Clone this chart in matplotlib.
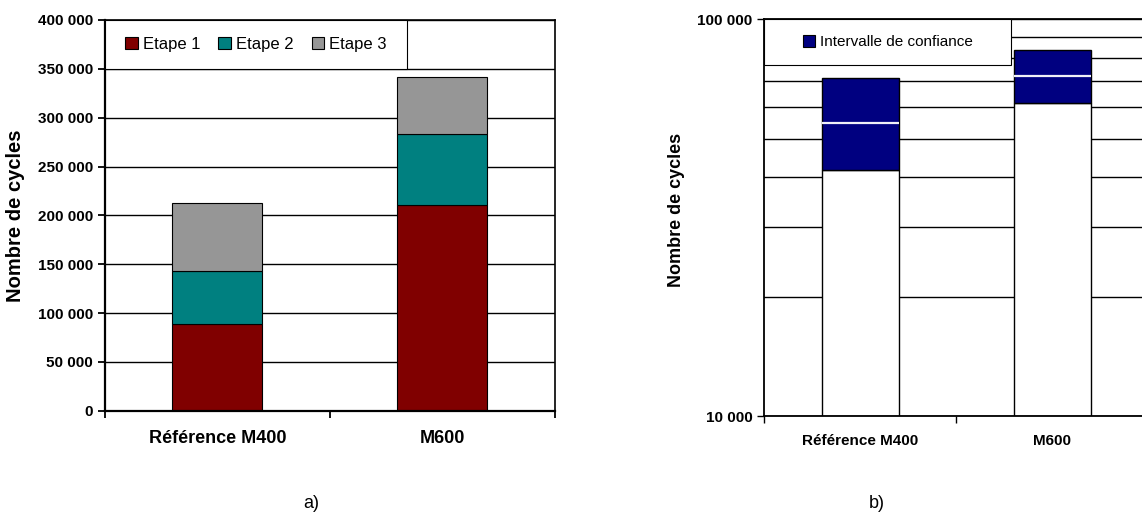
"""
Nombre de cycles par etape (a) et intervalle de confiance (b).
"""

import matplotlib
matplotlib.use('Agg')
import matplotlib.pyplot as plt
import numpy as np
from matplotlib.patches import Rectangle, Patch
from matplotlib.ticker import FuncFormatter, LogLocator, NullFormatter, FixedLocator

plt.rcParams['font.family'] = ['Liberation Sans', 'DejaVu Sans']

# data
categories = ['Référence M400', 'M600']
etape1 = [89000, 211000]
etape2 = [54000, 72000]
etape3 = [70000, 59000]
etape_labels = ['Etape 1', 'Etape 2', 'Etape 3']
etape_colors = ['#800000', '#008080', '#969696']

ic_low = [41700, 61400]
ic_mean = [54800, 71800]
ic_high = [71100, 83900]
ic_label = 'Intervalle de confiance'
log_floor = 10000


def space_thousands(v, pos=None):
    return f"{int(round(v)):,}".replace(',', ' ')


fig = plt.figure(figsize=(11.42, 5.18), dpi=100)

# ---- a) stacked bars
ax1 = fig.add_axes([0.0919, 0.2071, 0.394, 0.7543])
x = np.arange(len(categories))
bottoms = np.zeros(len(categories))
for vals, lab, col in zip([etape1, etape2, etape3], etape_labels, etape_colors):
    ax1.bar(x, vals, 0.4, bottom=bottoms, color=col, edgecolor='black',
            linewidth=0.8, label=lab, zorder=2)
    bottoms += np.array(vals)

ax1.set_xlim(-0.5, 1.5)
ax1.set_ylim(0, 400000)
ax1.set_yticks(np.arange(0, 400001, 50000))
ax1.yaxis.set_major_formatter(FuncFormatter(space_thousands))
ax1.yaxis.grid(True, color='black', linewidth=1)
ax1.set_axisbelow(True)
ax1.xaxis.set_major_locator(FixedLocator([-0.5, 0.5, 1.5]))
ax1.xaxis.set_major_formatter(NullFormatter())
ax1.set_xticks(x, minor=True)
ax1.set_xticklabels(categories, minor=True, fontsize=13, fontweight='bold')
ax1.tick_params(axis='x', which='minor', length=0, pad=14)
ax1.tick_params(axis='x', which='major', length=5, width=1.3)
ax1.tick_params(axis='y', length=5, width=1.3, labelsize=11)
for t in ax1.get_yticklabels():
    t.set_fontweight('bold')
for s in ax1.spines.values():
    s.set_color('black')
    s.set_linewidth(1.2)
ax1.spines['left'].set_linewidth(1.6)
ax1.spines['bottom'].set_linewidth(1.6)
ax1.set_ylabel('Nombre de cycles', fontsize=14.5, fontweight='bold')
ax1.yaxis.set_label_coords(-0.178, 0.5)

# legend box on top left
ax1.add_patch(Rectangle((0, 1 - 0.125), 0.671, 0.125, transform=ax1.transAxes,
                        facecolor='white', edgecolor='black', linewidth=0.8,
                        clip_on=False, zorder=3))
handles1 = [Patch(facecolor=c, edgecolor='black', linewidth=0.8) for c in etape_colors]
leg1 = ax1.legend(handles1, etape_labels, loc='center', bbox_to_anchor=(0.3356, 1 - 0.0625),
                  ncol=3, frameon=False, fontsize=12, handlelength=0.75, handleheight=0.75,
                  handletextpad=0.3, columnspacing=1.1, borderaxespad=0)
leg1.set_zorder(4)

# ---- b) log scale, confidence interval
ax2 = fig.add_axes([0.6694, 0.1969, 0.3363, 0.7658])
ax2.bar(x, np.array(ic_low) - log_floor, 0.4, bottom=log_floor, color='white',
        edgecolor='black', linewidth=1, zorder=2)
ax2.bar(x, np.array(ic_high) - np.array(ic_low), 0.4, bottom=ic_low, color='#000080',
        edgecolor='black', linewidth=1, zorder=2)
ax2.hlines(ic_mean, x - 0.2, x + 0.2, color='#f0f0f8', linewidth=1.6, zorder=3)

ax2.set_yscale('log')
ax2.set_xlim(-0.5, 1.5)
ax2.set_ylim(10000, 100000)
ax2.yaxis.set_major_locator(FixedLocator([10000, 100000]))
ax2.yaxis.set_major_formatter(FuncFormatter(space_thousands))
ax2.yaxis.set_minor_locator(LogLocator(base=10, subs=np.arange(2, 10)))
ax2.yaxis.set_minor_formatter(NullFormatter())
ax2.yaxis.grid(True, which='both', color='black', linewidth=1)
ax2.set_axisbelow(True)
ax2.tick_params(axis='y', which='minor', length=0)
ax2.tick_params(axis='y', which='major', length=5, width=1, labelsize=11)
for t in ax2.get_yticklabels():
    t.set_fontweight('bold')
ax2.xaxis.set_major_locator(FixedLocator([-0.5, 0.5, 1.5]))
ax2.xaxis.set_major_formatter(NullFormatter())
ax2.set_xticks(x, minor=True)
ax2.set_xticklabels(categories, minor=True, fontsize=11, fontweight='bold')
ax2.tick_params(axis='x', which='minor', length=0, pad=13)
ax2.tick_params(axis='x', which='major', length=5, width=1)
ax2.spines['right'].set_visible(False)
for s in ['left', 'bottom', 'top']:
    ax2.spines[s].set_color('black')
    ax2.spines[s].set_linewidth(1.3)
ax2.set_ylabel('Nombre de cycles', fontsize=13, fontweight='bold')
ax2.yaxis.set_label_coords(-0.207, 0.52)

ax2.add_patch(Rectangle((0, 1 - 0.116), 0.643, 0.116, transform=ax2.transAxes,
                        facecolor='white', edgecolor='black', linewidth=0.8,
                        clip_on=False, zorder=4))
leg2 = ax2.legend([Patch(facecolor='#000080', edgecolor='black', linewidth=0.8)], [ic_label],
                  loc='center', bbox_to_anchor=(0.3215, 1 - 0.058), frameon=False,
                  fontsize=11, handlelength=0.75, handleheight=0.75, handletextpad=0.3,
                  borderaxespad=0)
leg2.set_zorder(5)

fig.text(311 / 1142, 1 - 503 / 518, 'a)', ha='center', va='center', fontsize=13)
fig.text(877 / 1142, 1 - 503 / 518, 'b)', ha='center', va='center', fontsize=13)

plt.savefig('out.png', dpi=100)
